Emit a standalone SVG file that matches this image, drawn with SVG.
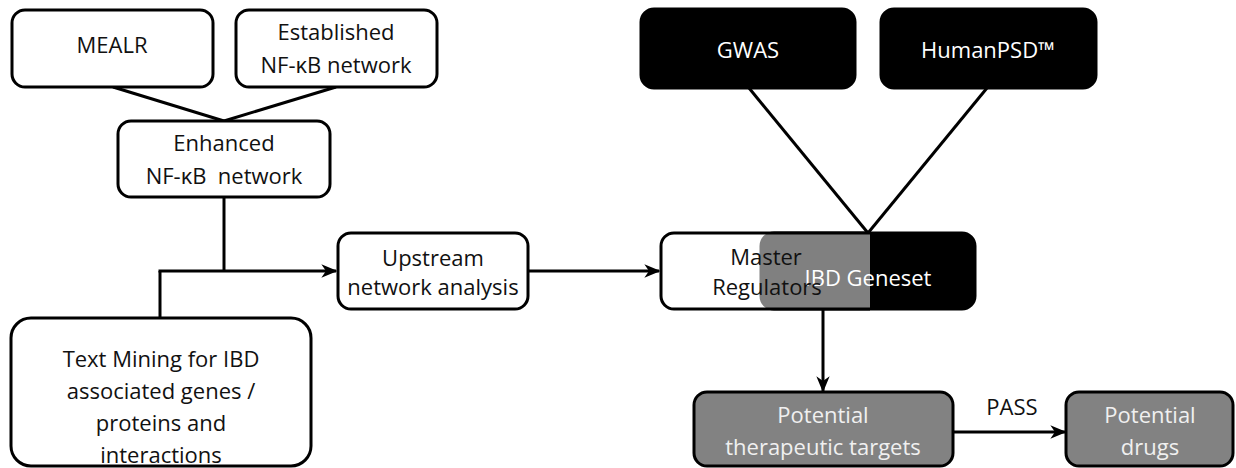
<svg xmlns="http://www.w3.org/2000/svg" width="1236" height="468" viewBox="0 0 1236 468">
<defs>
<marker id="arr" viewBox="0 0 12 10" refX="11" refY="5" markerWidth="16" markerHeight="14" markerUnits="userSpaceOnUse" orient="auto">
<path d="M0,0 L12,5 L0,10 L3.5,5 z" fill="#000"/>
</marker>
<style>
.box{fill:#fff;stroke:#000;stroke-width:3}
.blk{fill:#000;stroke:#000;stroke-width:3}
.gry{fill:#828282;stroke:#000;stroke-width:3}
.t{font-family:"Open Sans","Noto Sans",sans-serif;font-size:22px;text-anchor:middle;fill:#111}
.w{fill:#fff}
.lg{fill:#f0f0f0}
.c{fill:none;stroke:#000;stroke-width:3}
</style>
</defs>
<rect width="1236" height="468" fill="#fff"/>
<g id="connectors">
<line class="c" x1="113" y1="87" x2="224" y2="121"/>
<line class="c" x1="336" y1="87" x2="224" y2="121"/>
<line class="c" x1="224" y1="197" x2="224" y2="271"/>
<line class="c" x1="160" y1="318" x2="160" y2="271"/>
<path class="c" d="M158.5,271 H336" marker-end="url(#arr)"/>
<path class="c" d="M528,271 H659" marker-end="url(#arr)"/>
<line class="c" x1="749" y1="88" x2="868" y2="233"/>
<line class="c" x1="987" y1="88" x2="868" y2="233"/>
<path class="c" d="M823,309 V391" marker-end="url(#arr)"/>
<path class="c" d="M953,432 H1065" marker-end="url(#arr)"/>
</g>
<g id="mealr">
<rect class="box" x="12" y="10" width="201" height="77" rx="13"/>
<text class="t" x="112" y="53">MEALR</text>
</g>
<g id="established">
<rect class="box" x="236" y="10" width="201" height="77" rx="13"/>
<text class="t" x="336" y="40">Established</text>
<text class="t" x="336" y="73">NF-κB network</text>
</g>
<g id="enhanced">
<rect class="box" x="118" y="121" width="212" height="76" rx="13"/>
<text class="t" x="224" y="151">Enhanced</text>
<text class="t" x="224" y="184" xml:space="preserve">NF-κB  network</text>
</g>
<g id="textmining">
<rect class="box" x="11" y="318" width="300" height="148" rx="20"/>
<text class="t" x="161" y="367">Text Mining for IBD</text>
<text class="t" x="161" y="399">associated genes /</text>
<text class="t" x="161" y="431">proteins and</text>
<text class="t" x="161" y="463">interactions</text>
</g>
<g id="upstream">
<rect class="box" x="338" y="233" width="190" height="76" rx="13"/>
<text class="t" x="433" y="266">Upstream</text>
<text class="t" x="433" y="295">network analysis</text>
</g>
<g id="gwas">
<rect class="blk" x="641" y="9" width="214" height="79" rx="13"/>
<text class="t w" x="748" y="58">GWAS</text>
</g>
<g id="humanpsd">
<rect class="blk" x="881" y="9" width="215" height="79" rx="13"/>
<text class="t w" x="988" y="58">HumanPSD™</text>
</g>
<g id="ibd-geneset">
<rect class="blk" x="761" y="233" width="214" height="76" rx="13"/>
<text class="t w" x="868" y="286">IBD Geneset</text>
</g>
<g id="master-regulators">
<path d="M674,233 H870 V309 H674 A13,13 0 0 1 661,296 V246 A13,13 0 0 1 674,233 Z" fill="#fff" fill-opacity="0.5"/>
<path d="M870,233 H674 A13,13 0 0 0 661,246 V296 A13,13 0 0 0 674,309 H870" fill="none" stroke="#000" stroke-width="3"/>
<text class="t" x="766" y="265">Master</text>
<text class="t" x="767" y="295">Regulators</text>
</g>
<g id="targets">
<rect class="gry" x="694" y="392" width="259" height="74" rx="13"/>
<text class="t lg" x="823" y="423">Potential</text>
<text class="t lg" x="823" y="455">therapeutic targets</text>
</g>
<g id="drugs">
<rect class="gry" x="1066" y="392" width="167" height="74" rx="13"/>
<text class="t lg" x="1150" y="423">Potential</text>
<text class="t lg" x="1150" y="455">drugs</text>
</g>
<text class="t" x="1012" y="415">PASS</text>
</svg>
